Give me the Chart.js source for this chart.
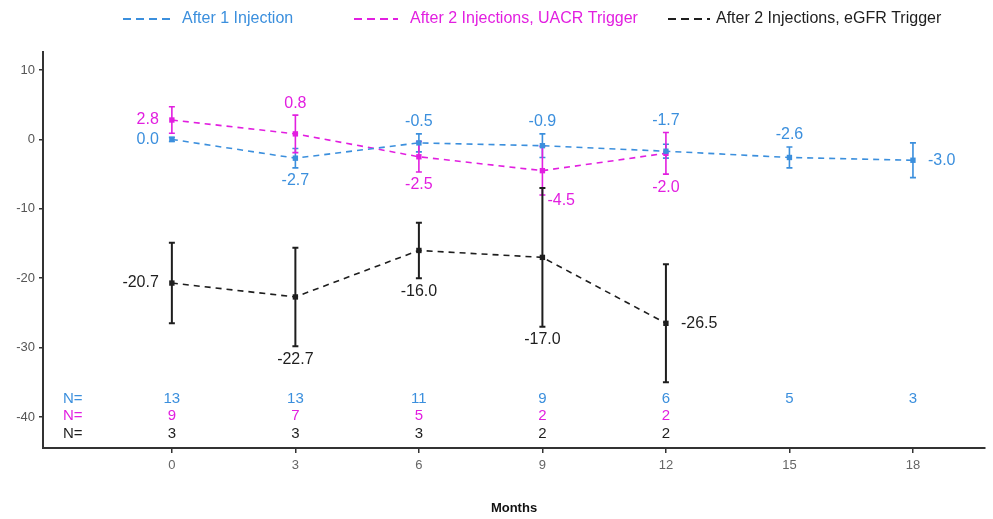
<!DOCTYPE html>
<html>
<head>
<meta charset="utf-8">
<script src="https://cdn.jsdelivr.net/npm/chart.js@4.4.0/dist/chart.umd.min.js"></script>
<style>
html, body { margin: 0; padding: 0; background: #fff; }
#wrap { width: 993px; height: 519px; }
</style>
</head>
<body>
<div id="wrap"><canvas id="myChart"></canvas></div>
<script>
// months on the x axis
var months = [0, 3, 6, 9, 12, 15, 18];
var yTicks = [-40, -30, -20, -10, 0, 10];

var seriesNames = ["After 1 Injection", "After 2 Injections, UACR Trigger", "After 2 Injections, eGFR Trigger"];
var seriesColors = ["#3b8fdd", "#e21fe0", "#1e1e1e"];

// mean change and error (+/-) per series
var oneInj = [0.0, -2.7, -0.5, -0.9, -1.7, -2.6, -3.0];
var oneInjErr = [0.3, 1.4, 1.3, 1.7, 1.0, 1.5, 2.5];
var uacr = [2.8, 0.8, -2.5, -4.5, -2.0];
var uacrErr = [1.9, 2.7, 2.2, 3.5, 3.0];
var egfr = [-20.7, -22.7, -16.0, -17.0, -26.5];
var egfrErr = [5.8, 7.1, 4.0, 10.0, 8.5];

// number of patients
var nOneInj = [13, 13, 11, 9, 6, 5, 3];
var nUacr = [9, 7, 5, 2, 2];
var nEgfr = [3, 3, 3, 2, 2];

// where each value label sits
var oneInjLabelPos = ["left", "below", "above", "above", "above", "above", "right"];
var uacrLabelPos = ["left", "above", "below", "belowright", "below"];
var egfrLabelPos = ["left", "below", "below", "below", "right"];

var means = [oneInj, uacr, egfr];
var errs = [oneInjErr, uacrErr, egfrErr];
var counts = [nOneInj, nUacr, nEgfr];
var labelPos = [oneInjLabelPos, uacrLabelPos, egfrLabelPos];

function toPoints(vals) {
  return vals.map(function (v, i) { return { x: months[i], y: v }; });
}

var FONT = "'Liberation Sans', Arial, sans-serif";

var datasets = means.map(function (vals, k) {
  return {
    label: seriesNames[k],
    data: toPoints(vals),
    borderColor: seriesColors[k],
    backgroundColor: seriesColors[k],
    borderWidth: 1.6,
    borderDash: [6, 5],
    pointStyle: 'rect',
    pointRadius: 3.8,
    pointBorderWidth: 0,
    tension: 0,
    fill: false
  };
});

var extras = {
  id: 'extras',
  beforeDatasetsDraw: function (chart) {
    var ctx = chart.ctx, xs = chart.scales.x, ys = chart.scales.y;
    ctx.save();
    errs.forEach(function (e, k) {
      ctx.strokeStyle = seriesColors[k];
      ctx.lineWidth = k === 2 ? 2 : 1.6;
      e.forEach(function (err, i) {
        var x = xs.getPixelForValue(months[i]);
        var t = ys.getPixelForValue(means[k][i] + err);
        var b = ys.getPixelForValue(means[k][i] - err);
        ctx.beginPath();
        ctx.moveTo(x, t); ctx.lineTo(x, b);
        ctx.moveTo(x - 3, t); ctx.lineTo(x + 3, t);
        ctx.moveTo(x - 3, b); ctx.lineTo(x + 3, b);
        ctx.stroke();
      });
    });
    ctx.restore();
  },
  afterDraw: function (chart) {
    var ctx = chart.ctx, xs = chart.scales.x, ys = chart.scales.y;
    ctx.save();
    // value labels
    ctx.font = '16px ' + FONT;
    means.forEach(function (vals, k) {
      ctx.fillStyle = seriesColors[k];
      vals.forEach(function (v, i) {
        var x = xs.getPixelForValue(months[i]);
        var y = ys.getPixelForValue(v);
        var pos = labelPos[k][i];
        var txt = v.toFixed(1);
        ctx.textBaseline = 'middle';
        if (pos === 'left') {
          ctx.textAlign = 'right'; ctx.fillText(txt, x - 13, y);
        } else if (pos === 'right') {
          ctx.textAlign = 'left'; ctx.fillText(txt, x + 15, y);
        } else if (pos === 'above') {
          var top = v + errs[k][i];
          means.forEach(function (m2, k2) {
            if (i < m2.length) top = Math.max(top, m2[i] + errs[k2][i]);
          });
          ctx.textAlign = 'center'; ctx.fillText(txt, x, ys.getPixelForValue(top) - 12);
        } else if (pos === 'below') {
          ctx.textAlign = 'center'; ctx.fillText(txt, x, ys.getPixelForValue(v - errs[k][i]) + 13);
        } else if (pos === 'belowright') {
          ctx.textAlign = 'left'; ctx.fillText(txt, x + 5, ys.getPixelForValue(v - errs[k][i]) + 6);
        }
      });
    });
    // N= rows
    ctx.font = '15px ' + FONT;
    var rowY = [399, 416, 434];
    counts.forEach(function (ns, k) {
      ctx.fillStyle = seriesColors[k];
      ctx.textAlign = 'left';
      ctx.fillText('N=', 63, rowY[k]);
      ctx.textAlign = 'center';
      ns.forEach(function (n, i) {
        ctx.fillText(String(n), xs.getPixelForValue(months[i]), rowY[k]);
      });
    });
    // legend
    ctx.font = '16px ' + FONT;
    var itemX = [123, 354, 668];
    var lineW = [47, 44, 42];
    var ly = 19;
    seriesNames.forEach(function (s, k) {
      var lx = itemX[k];
      ctx.strokeStyle = seriesColors[k];
      ctx.lineWidth = 2;
      ctx.setLineDash([8, 5]);
      ctx.beginPath();
      ctx.moveTo(lx, ly); ctx.lineTo(lx + lineW[k], ly);
      ctx.stroke();
      ctx.setLineDash([]);
      ctx.fillStyle = seriesColors[k];
      ctx.textAlign = 'left';
      ctx.textBaseline = 'middle';
      ctx.fillText(s, lx + lineW[k] + (k === 2 ? 6 : 12), ly);
    });
    ctx.restore();
  }
};

var ctx = document.getElementById('myChart').getContext('2d');
var chart = new Chart(ctx, {
  type: 'line',
  data: { datasets: datasets },
  options: {
    responsive: true,
    maintainAspectRatio: false,
    animation: false,
    layout: { padding: { top: 52, right: 8, left: 0, bottom: 0 } },
    plugins: {
      legend: { display: false },
      tooltip: { enabled: false }
    },
    scales: {
      x: {
        type: 'linear',
        min: -3.13,
        max: 19.75,
        afterBuildTicks: function (scale) {
          scale.ticks = months.map(function (m) { return { value: m }; });
        },
        afterFit: function (scale) { scale.height = 71; },
        grid: { drawOnChartArea: false, drawTicks: true, tickLength: 5, color: '#333', lineWidth: 1.5 },
        border: { display: true, color: '#333', width: 2 },
        ticks: { color: '#666', font: { size: 13, family: FONT }, padding: 5, maxRotation: 0 },
        title: { display: true, text: 'Months', color: '#111', font: { size: 13, weight: 'bold', family: FONT }, padding: { top: 0, bottom: 3 } }
      },
      y: {
        min: -44.47,
        max: 12.6,
        afterBuildTicks: function (scale) {
          scale.ticks = yTicks.map(function (v) { return { value: v }; });
        },
        afterFit: function (scale) { scale.width = 43; },
        grid: { drawOnChartArea: false, drawTicks: true, tickLength: 4, color: '#333', lineWidth: 1.5 },
        border: { display: true, color: '#333', width: 2 },
        ticks: { color: '#555', font: { size: 13, family: FONT }, padding: 4 }
      }
    }
  },
  plugins: [extras]
});
</script>
</body>
</html>
